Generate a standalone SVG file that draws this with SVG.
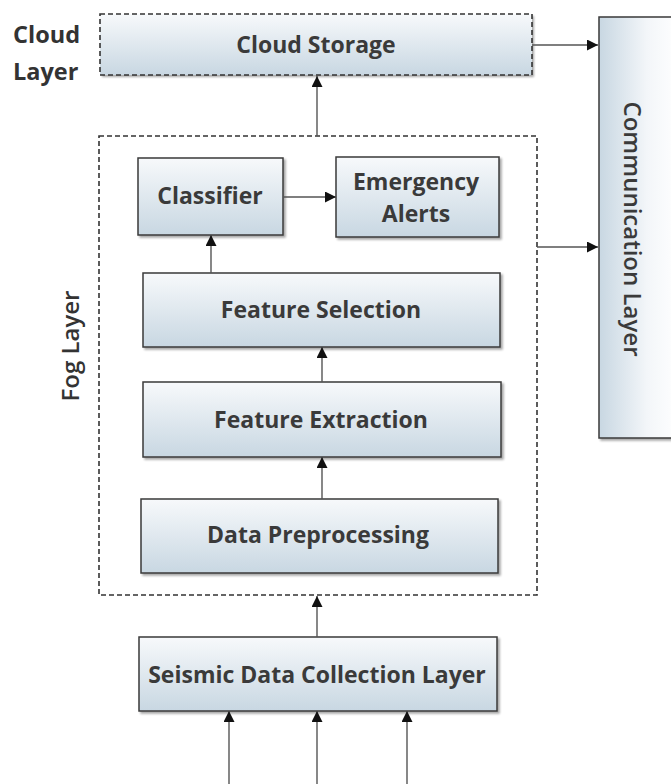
<svg xmlns="http://www.w3.org/2000/svg" width="671" height="784" viewBox="0 0 671 784">
<defs>
<linearGradient id="gv" x1="0" y1="0" x2="0" y2="1">
<stop offset="0" stop-color="#f7f9fb"/>
<stop offset="1" stop-color="#c8d7e2"/>
</linearGradient>
<linearGradient id="gh" x1="0" y1="0" x2="1" y2="0">
<stop offset="0" stop-color="#c8d7e2"/>
<stop offset="0.6" stop-color="#f3f6f9"/>
<stop offset="1" stop-color="#ffffff"/>
</linearGradient>
<filter id="sh" x="-10%" y="-10%" width="130%" height="140%">
<feDropShadow dx="2" dy="2" stdDeviation="1.2" flood-color="#000" flood-opacity="0.35"/>
</filter>
<marker id="ah" viewBox="0 0 10 10" refX="10" refY="5" markerWidth="11" markerHeight="11" markerUnits="userSpaceOnUse" orient="auto">
<path d="M0,0 L10,5 L0,10 z" fill="#111"/>
</marker>
</defs>
<style>
.box{fill:url(#gv);stroke:#3a3a3a;stroke-width:1.5;filter:url(#sh)}
.dash{stroke:#333;stroke-width:1.6;stroke-dasharray:5,3;fill:none}
.t{font-family:"Open Sans","Liberation Sans",sans-serif;font-weight:700;font-size:23px;fill:#3a3a3a;text-anchor:middle}
.lab{font-family:"Open Sans","Liberation Sans",sans-serif;font-weight:700;font-size:23.5px;fill:#333}
.c{stroke:#555;stroke-width:1.4;fill:none;marker-end:url(#ah)}
</style>
<rect width="671" height="784" fill="#fff"/>

<g id="cloud-layer-label">
<text class="lab" x="13" y="43">Cloud</text>
<text class="lab" x="13" y="80">Layer</text>
</g>

<g id="cloud-storage">
<rect x="100" y="14" width="432" height="61" fill="url(#gv)" filter="url(#sh)"/>
<rect x="100" y="14" width="432" height="61" class="dash"/>
<text class="t" x="316" y="53">Cloud Storage</text>
</g>

<g id="communication-layer">
<rect x="599" y="17" width="80" height="421" fill="url(#gh)" stroke="#3a3a3a" stroke-width="1.5" filter="url(#sh)"/>
<text class="t" transform="translate(624,229) rotate(90)" style="font-weight:600;font-size:24px">Communication Layer</text>
</g>

<g id="fog-layer">
<rect x="99" y="136" width="438" height="459" class="dash"/>
<text class="lab" transform="translate(79,346) rotate(-90)" text-anchor="middle" style="font-size:24px;font-weight:600">Fog Layer</text>
</g>

<g id="classifier">
<rect x="138" y="158" width="145" height="77" class="box"/>
<text class="t" x="210" y="204">Classifier</text>
</g>

<g id="emergency-alerts">
<rect x="336" y="157" width="163" height="80" class="box"/>
<text class="t" x="416" y="190">Emergency</text>
<text class="t" x="416" y="222">Alerts</text>
</g>

<g id="feature-selection">
<rect x="143" y="273" width="357" height="74" class="box"/>
<text class="t" x="321" y="318">Feature Selection</text>
</g>

<g id="feature-extraction">
<rect x="143" y="382" width="358" height="75" class="box"/>
<text class="t" x="321" y="428">Feature Extraction</text>
</g>

<g id="data-preprocessing">
<rect x="141" y="499" width="357" height="74" class="box"/>
<text class="t" x="318" y="543">Data Preprocessing</text>
</g>

<g id="seismic-data-collection">
<rect x="139" y="637" width="358" height="74" class="box"/>
<text class="t" x="317" y="683">Seismic Data Collection Layer</text>
</g>

<g id="connectors">
<line class="c" x1="532" y1="45" x2="598" y2="45"/>
<line class="c" x1="537" y1="247" x2="598" y2="247"/>
<line class="c" x1="317" y1="136" x2="317" y2="76"/>
<line class="c" x1="283" y1="197" x2="336" y2="197"/>
<line class="c" x1="211" y1="273" x2="211" y2="235"/>
<line class="c" x1="322" y1="382" x2="322" y2="347"/>
<line class="c" x1="322" y1="499" x2="322" y2="457"/>
<line class="c" x1="317" y1="637" x2="317" y2="596"/>
<line class="c" x1="229" y1="784" x2="229" y2="711"/>
<line class="c" x1="317" y1="784" x2="317" y2="711"/>
<line class="c" x1="407" y1="784" x2="407" y2="711"/>
</g>
</svg>
